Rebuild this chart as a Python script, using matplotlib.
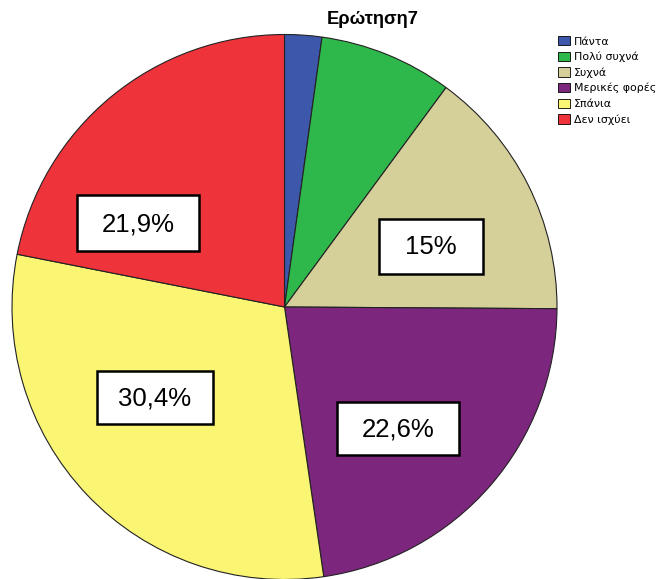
import matplotlib
matplotlib.use("Agg")
import matplotlib.pyplot as plt
from matplotlib.patches import Rectangle

categories = ["Πάντα", "Πολύ συχνά", "Συχνά", "Μερικές φορές", "Σπάνια", "Δεν ισχύει"]
values = [2.2, 7.9, 15.0, 22.6, 30.4, 21.9]
labels = ["", "", "15%", "22,6%", "30,4%", "21,9%"]
colors = ["#3d58ab", "#2eb74b", "#d5cf9a", "#7c277d", "#faf673", "#ef333b"]
title = "Ερώτηση7"

# label box centres/sizes in pixel space (style)
W, H = 657, 579
cx, cy, R = 284.5, 307.0, 272.5
label_pos = {2: (431, 246, 104, 55), 3: (398, 428, 122, 53),
             4: (155, 397, 116, 53), 5: (138, 223, 122, 56)}

fig = plt.figure(figsize=(W / 100, H / 100), dpi=100)
ax = fig.add_axes([(cx - R) / W, (H - cy - R) / H, 2 * R / W, 2 * R / H])
wedges, _ = ax.pie(values, colors=colors, startangle=90, counterclock=False,
                   radius=1.0, wedgeprops=dict(edgecolor="#222222", linewidth=0.8))
ax.set_xlim(-1, 1)
ax.set_ylim(-1, 1)
ax.set_aspect("auto")
ax.axis("off")

for i, (px, py, bw, bh) in label_pos.items():
    x = (px - cx) / R
    y = (cy - py) / R
    w = bw / R
    h = bh / R
    ax.add_patch(Rectangle((x - w / 2, y - h / 2), w, h, facecolor="white",
                           edgecolor="black", linewidth=1.8, zorder=5))
    ax.text(x, y - 1.5 / R, labels[i], ha="center", va="center", fontsize=18.5,
            family="Liberation Sans", zorder=6)

fig.text(373 / W, 1 - 19 / H, title, ha="center", va="center", fontsize=13.2,
         fontweight="bold", family="Liberation Sans")

leg = fig.legend(wedges, categories, loc="upper left", bbox_to_anchor=(558 / W, 1 - 36 / H),
                 frameon=False, handlelength=1.1, handleheight=0.95,
                 handletextpad=0.35, labelspacing=0.47, borderaxespad=0, borderpad=0,
                 prop=dict(family="DejaVu Sans", size=7.9))
for h in leg.legend_handles:
    h.set_edgecolor("black")
    h.set_linewidth(0.6)

fig.savefig("out.png", dpi=100)
